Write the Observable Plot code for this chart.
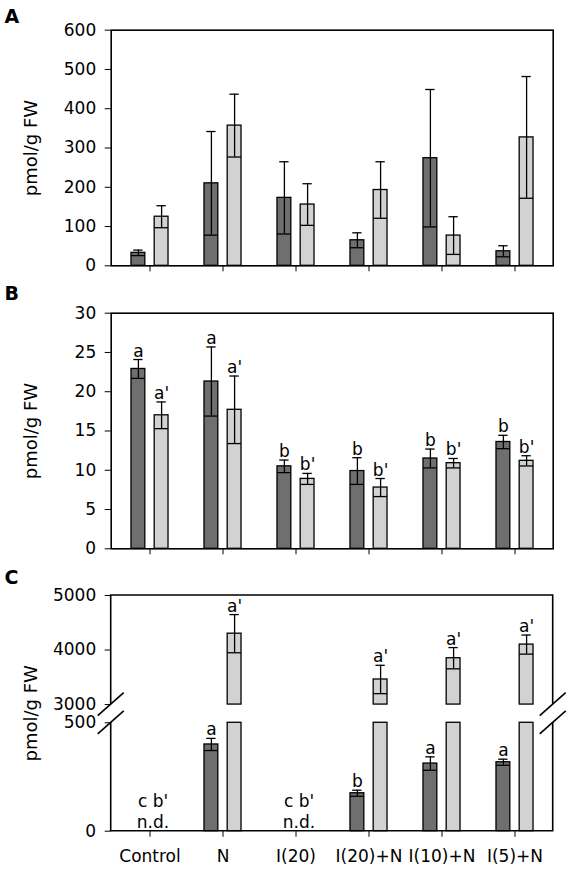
<!DOCTYPE html>
<html><head><meta charset="utf-8">
<script src="https://cdn.jsdelivr.net/npm/d3@7"></script>
<script src="https://cdn.jsdelivr.net/npm/@observablehq/plot@0.6"></script>
<style>body{margin:0;background:#fff} svg{display:block}</style>
</head><body><div id="chart"></div>
<script>
// ---------- data ----------
const categories = ["Control", "N", "I(20)", "I(20)+N", "I(10)+N", "I(5)+N"];
const yLabel = "pmol/g FW";

// Panel A
const aDark = [33, 210, 173, 65, 274, 37];
const aDarkErr = [7, 132, 92, 19, 175, 14];
const aLight = [125, 357, 156, 193, 77, 327];
const aLightErr = [28, 80, 53, 72, 48, 155];
const aTicks = [0, 100, 200, 300, 400, 500, 600];

// Panel B
const bDark = [22.9, 21.3, 10.5, 9.9, 11.5, 13.6];
const bDarkErr = [1.2, 4.4, 0.8, 1.7, 1.2, 0.85];
const bLight = [17.0, 17.7, 8.9, 7.8, 10.9, 11.2];
const bLightErr = [1.7, 4.3, 0.7, 1.15, 0.6, 0.65];
const bDarkSig = ["a", "a", "b", "b", "b", "b"];
const bLightSig = ["a'", "a'", "b'", "b'", "b'", "b'"];
const bTicks = [0, 5, 10, 15, 20, 25, 30];

// Panel C (null = not detected)
const cDark = [null, 400, null, 175, 312, 318];
const cDarkErr = [null, 28, null, 14, 31, 14];
const cLight = [null, 4300, null, 3460, 3850, 4100];
const cLightErr = [null, 350, null, 260, 195, 175];
const cDarkSig = ["c", "a", "c", "b", "a", "a"];
const cLightSig = ["b'", "a'", "b'", "a'", "a'", "a'"];
const cTicks = [0, 500, 3000, 4000, 5000];
const cLowMax = 500, cHighMin = 3000, cHighMax = 5000;
const ndText = "n.d.";

// ---------- layout / style ----------
const W = 570, L = 110.7, R = 552.7;
const DARK = "#6f6f6f", LIGHT = "#d2d2d2";
const FONT = "DejaVu Sans";
const step = (R - L) / categories.length;
const barW = 14.5, off = 11.6, capW = 10;
const inset = (step - barW) / 2, capInset = (step - capW) / 2;

// broken axis mapping for panel C (virtual units)
const breakPos = 584, highK = 0.2515;
const bv = v => v <= cLowMax ? v : breakPos + (v - cHighMin) * highK;

function rows(vals, errs, sigs) {
  return categories.map((c, i) => ({cat: c, v: vals[i], e: errs[i], sig: sigs ? sigs[i] : null}))
    .filter(d => d.v != null);
}

function seriesMarks(data, dx, fill, f, segments) {
  const st = {stroke: "black", strokeWidth: 1.3};
  const m = [];
  for (const [lo, hi] of segments) {
    m.push(Plot.barY(data, {x: "cat", y1: () => f(lo), y2: d => f(hi == null ? d.v : hi), fill, ...st, dx, insetLeft: inset, insetRight: inset}));
  }
  m.push(Plot.ruleX(data, {x: "cat", y1: d => f(d.v - d.e), y2: d => f(d.v + d.e), dx, ...st}));
  m.push(Plot.tickY(data, {x: "cat", y: d => f(d.v - d.e), dx, insetLeft: inset, insetRight: inset, ...st}));
  m.push(Plot.tickY(data, {x: "cat", y: d => f(d.v + d.e), dx, insetLeft: capInset, insetRight: capInset, ...st}));
  if (data.length && data[0].sig != null)
    m.push(Plot.text(data, {x: "cat", y: d => f(d.v + d.e), text: "sig", dx, dy: -3, lineAnchor: "bottom", fontSize: 17}));
  return m;
}

function decor(letter, letterDy) {
  return [
    Plot.text([letter], {frameAnchor: "top-left", textAnchor: "start", lineAnchor: "top", dx: 4 - L, dy: letterDy, fontWeight: "bold", fontSize: 19}),
    Plot.text([yLabel], {frameAnchor: "left", textAnchor: "middle", rotate: -90, dx: 31 - L, fontSize: 18})
  ];
}

const common = (h, mt, mb) => ({
  width: W, height: h, marginLeft: L, marginRight: W - R, marginTop: mt, marginBottom: mb,
  style: {fontFamily: FONT, fontSize: "17px", color: "black", background: "white", overflow: "visible"}
});

const xHidden = {domain: categories, range: [L, R], padding: 0, tickSize: 6, tickFormat: () => "", label: null};
const id = v => v;

// Panel A
const chartA = Plot.plot({
  ...common(285, 29.7, 19.7),
  x: xHidden,
  y: {domain: [0, 600], ticks: aTicks, tickSize: 6, tickPadding: 9, label: null},
  marks: [
    ...seriesMarks(rows(aDark, aDarkErr), -off, DARK, id, [[0, null]]),
    ...seriesMarks(rows(aLight, aLightErr), off, LIGHT, id, [[0, null]]),
    Plot.frame({stroke: "black", strokeWidth: 1.6}),
    ...decor("A", -21)
  ]
});

// Panel B
const chartB = Plot.plot({
  ...common(277, 27.7, 13.7),
  x: xHidden,
  y: {domain: [0, 30], ticks: bTicks, tickSize: 6, tickPadding: 9, label: null},
  marks: [
    ...seriesMarks(rows(bDark, bDarkErr, bDarkSig), -off, DARK, id, [[0, null]]),
    ...seriesMarks(rows(bLight, bLightErr, bLightSig), off, LIGHT, id, [[0, null]]),
    Plot.frame({stroke: "black", strokeWidth: 1.6}),
    ...decor("B", -27)
  ]
});

// Panel C
const ndRows = categories.map((c, i) => ({cat: c, v: cDark[i], sig: cDarkSig[i] + " " + cLightSig[i]})).filter(d => d.v == null);
const cTickV = cTicks.map(bv);
const chartC = Plot.plot({
  ...common(312, 33, 43.3),
  x: {domain: categories, range: [L, R], padding: 0, tickSize: 6, tickPadding: 13, label: null},
  y: {domain: [0, bv(cHighMax)], ticks: cTickV, tickFormat: d => String(cTicks[cTickV.indexOf(d)]), tickSize: 6, tickPadding: 9, label: null},
  marks: [
    ...seriesMarks(rows(cDark, cDarkErr, cDarkSig), -off, DARK, bv, [[0, null]]),
    ...seriesMarks(rows(cLight, cLightErr, cLightSig), off, LIGHT, bv, [[0, cLowMax], [cHighMin, null]]),
    Plot.text(ndRows, {x: "cat", y: () => 0, text: "sig", dx: 3, dy: -24, lineAnchor: "bottom", fontSize: 17}),
    Plot.text(ndRows, {x: "cat", y: () => 0, text: () => ndText, dx: 3, dy: -3, lineAnchor: "bottom", fontSize: 17}),
    ...decor("C", -25)
  ]
});

// broken frame for panel C, positioned through the plot's y scale
{
  const ys = chartC.scale("y");
  const yHi = ys.apply(bv(cHighMin)), yLo = ys.apply(bv(cLowMax));
  const T = 33, B = 312 - 43.3;
  const g = d3.select(chartC).append("g").attr("fill", "none").attr("stroke", "black").attr("stroke-width", 1.6);
  g.append("path").attr("d", `M${L},${yHi}V${T}H${R}V${yHi}M${L},${yLo}V${B}H${R}V${yLo}`);
  for (const x of [L, R]) for (const y of [yHi, yLo]) {
    g.append("line").attr("x1", x - 13).attr("y1", y + 11.5).attr("x2", x + 13).attr("y2", y - 11.5);
  }
}

const root = document.getElementById("chart");
root.append(chartA, chartB, chartC);
</script>
</body></html>
